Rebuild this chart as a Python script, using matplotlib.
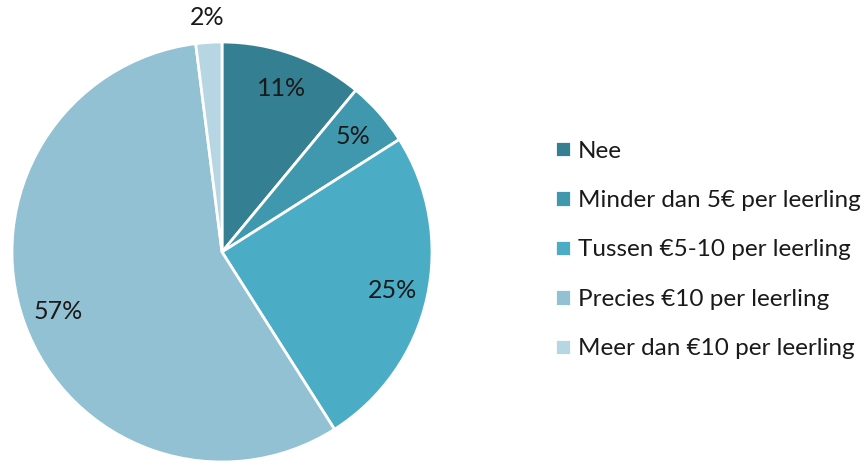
import matplotlib
matplotlib.use("Agg")
import matplotlib.pyplot as plt
import numpy as np

categories = ["Nee", "Minder dan 5€ per leerling", "Tussen €5-10 per leerling",
              "Precies €10 per leerling", "Meer dan €10 per leerling"]
values = [11, 5, 25, 57, 2]
colors = ["#357F93", "#4098AE", "#4BACC6", "#92C1D3", "#B7D6E3"]

plt.rcParams['font.family'] = ['Lato', 'DejaVu Sans']

fig = plt.figure(figsize=(8.67, 4.63), dpi=100)
W, H = 867, 463
cx, cy, r = 222, 252, 210
ax = fig.add_axes([(cx - r) / W, (H - cy - r) / H, 2 * r / W, 2 * r / H])

wedges, texts, autotexts = ax.pie(
    values, colors=colors, startangle=90, counterclock=False,
    autopct=lambda p: f"{p:.0f}%", pctdistance=0.83,
    wedgeprops=dict(edgecolor="white", linewidth=2),
    textprops=dict(fontsize=18, color="#1a1a1a"))

# small slice label outside
for w, t, v in zip(wedges, autotexts, values):
    if v < 3:
        ang = np.deg2rad((w.theta1 + w.theta2) / 2)
        t.set_position((1.12 * np.cos(ang), 1.12 * np.sin(ang)))

ax.set_xlim(-1, 1)
ax.set_ylim(-1, 1)
ax.set_aspect('equal')

leg = fig.legend(wedges, categories, loc="center left",
                 bbox_to_anchor=(555 / W, (H - 250) / H),
                 frameon=False, fontsize=17.5, handlelength=0.65, handleheight=0.65,
                 handletextpad=0.3, labelspacing=1.17, borderaxespad=0,
                 borderpad=0)
for t in leg.get_texts():
    t.set_color("#1a1a1a")

fig.savefig("out.png", dpi=100)
